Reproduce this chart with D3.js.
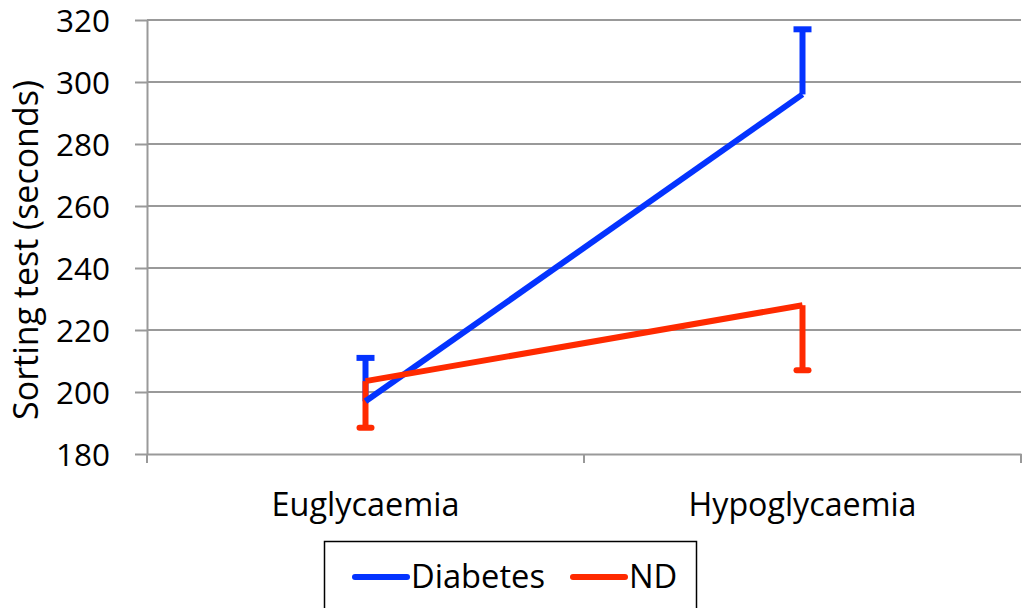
<!DOCTYPE html>
<html>
<head>
<meta charset="utf-8">
<script src="https://cdn.jsdelivr.net/npm/d3@7/dist/d3.min.js"></script>
<style>
  html, body { margin: 0; padding: 0; background: #fff; }
  svg { display: block; font-family: "Open Sans", Lato, sans-serif; }
</style>
</head>
<body>
<svg id="chart" width="1023" height="608"></svg>
<script>
// Sorting test time by glycaemic condition
const categories = ["Euglycaemia", "Hypoglycaemia"];
const seriesNames = ["Diabetes", "ND"];
const diabetesValues = [197, 296];
const diabetesErrors = [14, 21];   // drawn upward
const ndValues = [203.5, 228];
const ndErrors = [15, 21];         // drawn downward
const yTicks = [180, 200, 220, 240, 260, 280, 300, 320];
const colors = { Diabetes: "#0433ff", ND: "#ff2a00" };

const series = [
  { name: "Diabetes", values: diabetesValues, errors: diabetesErrors, dir: 1 },
  { name: "ND", values: ndValues, errors: ndErrors, dir: -1 }
];

const FONT = "'Open Sans', Lato, sans-serif";
const svg = d3.select("#chart");
const margin = { left: 147, right: 2, top: 20, bottom: 154 };
const W = 1023, H = 608;

// scale a label's font size so its run length equals the given width; returns the size
function fitWidth(sel, width) {
  let out = null;
  sel.each(function () {
    const t = d3.select(this);
    const fs = parseFloat(t.attr("font-size"));
    const len = this.getComputedTextLength();
    if (len > 0) { out = fs * width / len; t.attr("font-size", out.toFixed(2)); }
  });
  return out;
}

const x = d3.scaleBand().domain(categories).range([margin.left, W - margin.right]);
const y = d3.scaleLinear().domain([180, 320]).range([H - margin.bottom, margin.top]);

// horizontal gridlines
svg.append("g").selectAll("line").data(yTicks.slice(1)).join("line")
  .attr("x1", margin.left).attr("x2", W - margin.right)
  .attr("y1", d => y(d)).attr("y2", d => y(d))
  .attr("stroke", "#999").attr("stroke-width", 2);

// y axis
const yAxis = svg.append("g").attr("transform", `translate(${margin.left},0)`)
  .call(d3.axisLeft(y).tickValues(yTicks).tickSize(12).tickSizeOuter(0).tickPadding(25));
yAxis.select(".domain").attr("stroke", "#999").attr("stroke-width", 2);
yAxis.selectAll(".tick line").attr("stroke", "#999").attr("stroke-width", 2);
yAxis.selectAll(".tick text").attr("font-size", 26).attr("fill", "#000")
  .attr("font-family", FONT).attr("dy", "0.36em");
fitWidth(yAxis.selectAll(".tick text"), 54);

// x axis
const xAxis = svg.append("g").attr("transform", `translate(0,${y(180)})`)
  .call(d3.axisBottom(x).tickSize(0).tickPadding(0));
xAxis.select(".domain").attr("stroke", "#999").attr("stroke-width", 2);
xAxis.selectAll(".tick text").attr("font-size", 30).attr("fill", "#000")
  .attr("font-family", FONT).attr("dy", null).attr("y", 62);
fitWidth(xAxis.selectAll(".tick text").filter(d => d === categories[0]), 188);
fitWidth(xAxis.selectAll(".tick text").filter(d => d === categories[1]), 228);
// category boundary ticks
const bounds = [x.range()[0], x(categories[1]), x.range()[1]];
xAxis.append("g").selectAll("line").data(bounds).join("line")
  .attr("x1", d => d).attr("x2", d => d).attr("y1", 0).attr("y2", 9)
  .attr("stroke", "#999").attr("stroke-width", 2);

// y axis title
const yTitle = svg.append("text")
  .attr("transform", `translate(38,${(y(180) + y(320)) / 2 + 13}) rotate(-90)`)
  .attr("text-anchor", "middle").attr("font-size", 26).attr("fill", "#000")
  .attr("font-family", FONT)
  .text("Sorting test (seconds)");
fitWidth(yTitle, 340);

const cx = c => x(c) + x.bandwidth() / 2;

// error bars and lines
const line = d3.line().x((d, i) => cx(categories[i])).y(d => y(d));
series.forEach(s => {
  const g = svg.append("g");
  s.values.forEach((v, i) => {
    const end = v + s.dir * s.errors[i];
    g.append("line")
      .attr("x1", cx(categories[i])).attr("x2", cx(categories[i]))
      .attr("y1", y(v)).attr("y2", y(end))
      .attr("stroke", colors[s.name]).attr("stroke-width", 6);
    g.append("line")
      .attr("x1", cx(categories[i]) - 6).attr("x2", cx(categories[i]) + 6)
      .attr("y1", y(end)).attr("y2", y(end))
      .attr("stroke", colors[s.name]).attr("stroke-width", 6)
      .attr("stroke-linecap", s.dir > 0 ? "square" : "round");
  });
});
series.forEach(s => {
  svg.append("path").datum(s.values).attr("d", line)
    .attr("fill", "none").attr("stroke", colors[s.name]).attr("stroke-width", 6)
    .attr("stroke-linejoin", "round");
});

// legend
const lg = svg.append("g");
lg.append("rect").attr("x", 324.5).attr("y", 541.5).attr("width", 372).attr("height", 70)
  .attr("fill", "#fff").attr("stroke", "#000").attr("stroke-width", 1.5);
const legendX = [352, 570];
let legendFont = 25;
seriesNames.forEach((n, i) => {
  lg.append("line").attr("x1", legendX[i] + 3).attr("x2", legendX[i] + 55)
    .attr("y1", 577).attr("y2", 577)
    .attr("stroke", colors[n]).attr("stroke-width", 6).attr("stroke-linecap", "round");
  const t = lg.append("text").attr("x", legendX[i] + 59).attr("y", 588)
    .attr("font-size", legendFont).attr("font-family", FONT).attr("fill", "#000").text(n);
  if (i === 0) legendFont = fitWidth(t, 134);
});
</script>
</body>
</html>
